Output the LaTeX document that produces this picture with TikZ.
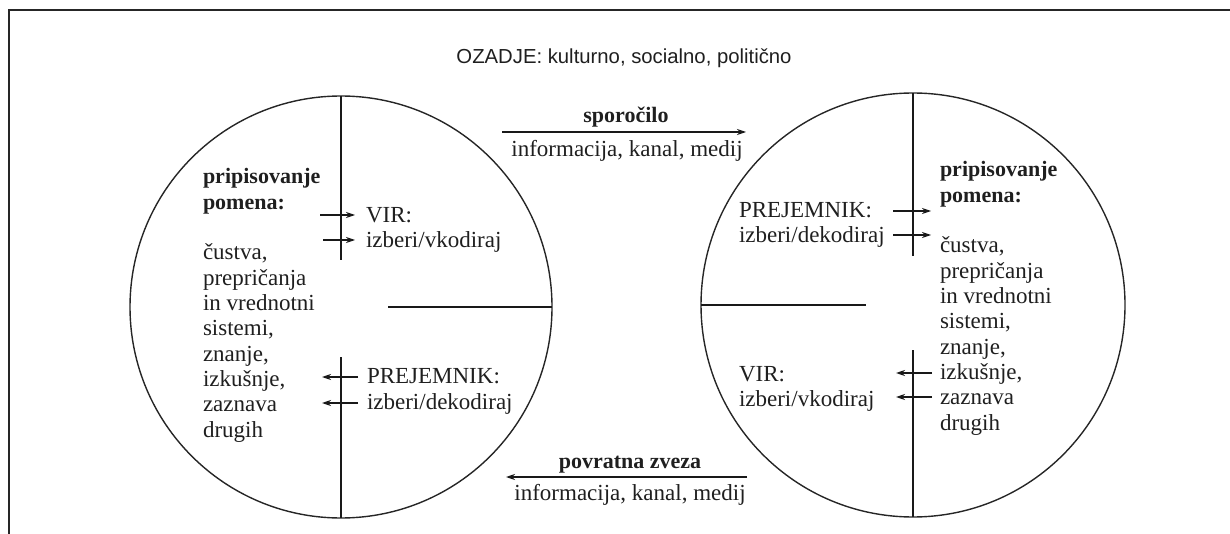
\documentclass[tikz,border=0pt]{standalone}
\usepackage{fontspec}
\setmainfont{Liberation Serif}
\newfontfamily\titlefont{Liberation Sans}
\usetikzlibrary{arrows.meta}
\begin{document}
\begin{tikzpicture}[x=1pt,y=-1pt,
  txt/.style={inner sep=0pt, outer sep=0pt, anchor=base west, text=black!88, font=\fontsize{23}{25.3}\selectfont},
  btxt/.style={txt, font=\fontsize{22}{25.3}\selectfont\bfseries},
  arr/.style={-{Stealth[length=9pt,width=6pt]}, line width=1.1pt, draw=black!90},
  ring/.style={circle, draw=black!85, line width=1.4pt, inner sep=0pt, outer sep=0pt},
  div/.style={line width=1.5pt, draw=black!90},
  frame/.style={line width=1.3pt, draw=black!85}]
\useasboundingbox (0,0) rectangle (1230,534);
% frame
\coordinate (f1) at (9,534);
\coordinate (f2) at (9,10);
\coordinate (f3) at (1230,10);
\draw[frame] (f1) -- (f2) -- (f3);
% title
\node[inner sep=0pt, anchor=base, text=black!88, font=\titlefont\fontsize{20.3}{24}\selectfont] (title) at (624,64) {OZADJE: kulturno, socialno, politično};
% circles
\node[ring, minimum size=422pt] (L) at (341,307) {};
\node[ring, minimum size=424pt] (R) at (913,305) {};
% dividers left
\draw[div] (L.north) -- ++(0,164);
\draw[div] (L.south) -- ++(0,-161);
\draw[div] (L.east) -- ++(-164,0);
% dividers right
\draw[div] (R.north) -- ++(0,163);
\draw[div] (R.south) -- ++(0,-167);
\draw[div] (R.west) -- ++(164.5,0);
% left circle texts
\node[btxt] (Lh1) at (203,184) {pripisovanje};
\node[btxt] (Lh2) at (203,209.3) {pomena:};
\foreach \t [count=\i from 0] in {{čustva,},prepričanja,{in vrednotni},{sistemi,},{znanje,},{izkušnje,},zaznava,drugih}
  \node[txt] (Lb\i) at (203,{260+25.3*\i}) {\t};
\node[txt] (virL) at (366,223) {VIR:};
\node[txt] (vkL) at (366,248) {izberi/vkodiraj};
\node[txt] (prL) at (367,383) {PREJEMNIK:};
\node[txt] (dkL) at (367,409) {izberi/dekodiraj};
% right circle texts
\node[btxt] (Rh1) at (940,177) {pripisovanje};
\node[btxt] (Rh2) at (940,202.3) {pomena:};
\foreach \t [count=\i from 0] in {{čustva,},prepričanja,{in vrednotni},{sistemi,},{znanje,},{izkušnje,},zaznava,drugih}
  \node[txt] (Rb\i) at (940,{253+25.3*\i}) {\t};
\node[txt] (prR) at (739,218) {PREJEMNIK:};
\node[txt] (dkR) at (739,243) {izberi/dekodiraj};
\node[txt] (virR) at (739,381) {VIR:};
\node[txt] (vkR) at (739,406) {izberi/vkodiraj};
% small arrows left circle
\coordinate (la1s) at (320,215); \coordinate (la1e) at (355,215);
\coordinate (la2s) at (323,240); \coordinate (la2e) at (355,240);
\draw[arr] (la1s) -- (la1e);
\draw[arr] (la2s) -- (la2e);
\coordinate (lb1s) at (358,377); \coordinate (lb1e) at (322,377);
\coordinate (lb2s) at (358,403); \coordinate (lb2e) at (322,403);
\draw[arr] (lb1s) -- (lb1e);
\draw[arr] (lb2s) -- (lb2e);
% small arrows right circle
\coordinate (ra1s) at (893,211); \coordinate (ra1e) at (931,211);
\coordinate (ra2s) at (893,235); \coordinate (ra2e) at (931,235);
\draw[arr] (ra1s) -- (ra1e);
\draw[arr] (ra2s) -- (ra2e);
\coordinate (rb1s) at (932,373); \coordinate (rb1e) at (896,373);
\coordinate (rb2s) at (932,397); \coordinate (rb2e) at (896,397);
\draw[arr] (rb1s) -- (rb1e);
\draw[arr] (rb2s) -- (rb2e);
% message arrow
\node[btxt, anchor=base] (sp) at (626,123) {sporočilo};
\node[txt, anchor=base] (spi) at (627,157) {informacija, kanal, medij};
\coordinate (ms) at (502,132); \coordinate (me) at (746,132);
\draw[arr] (ms) -- (me);
% feedback arrow
\node[btxt, anchor=base] (pz) at (630,468) {povratna zveza};
\node[txt, anchor=base] (pzi) at (630,500) {informacija, kanal, medij};
\coordinate (fs) at (747,477); \coordinate (fe) at (506,477);
\draw[arr] (fs) -- (fe);
\end{tikzpicture}
\end{document}
